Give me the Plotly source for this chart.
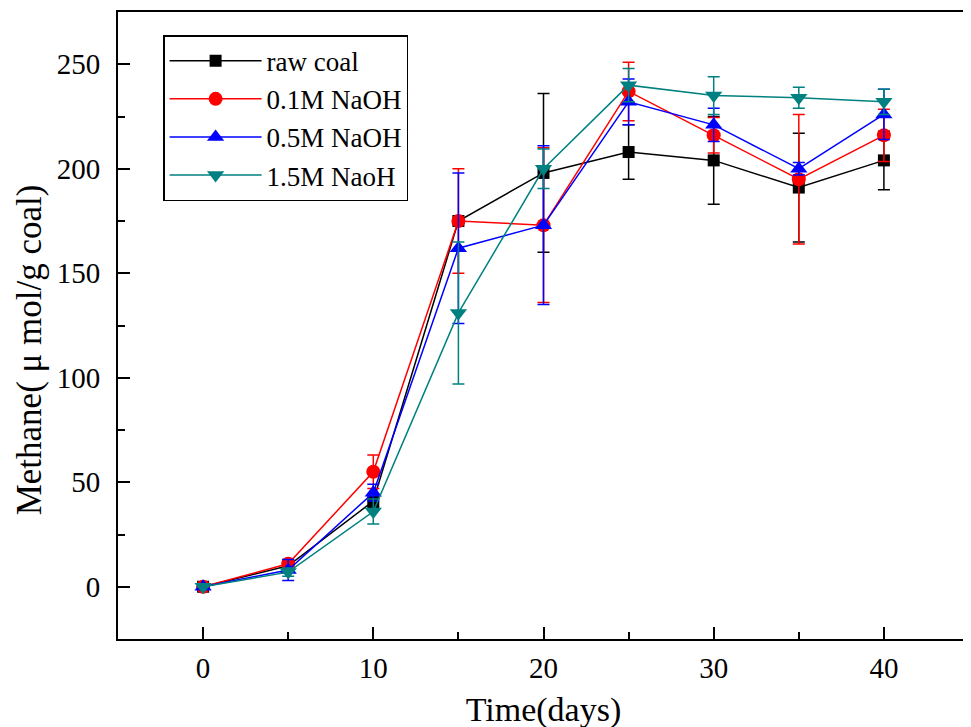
import plotly.graph_objects as go

time_days = [0, 5, 10, 15, 20, 25, 30, 35, 40]

raw_coal = [0, 10, 41, 175, 198, 208, 204, 191, 204]
raw_coal_err = [0, 2, 3, 0, 38, 13, 21, 26, 14]

naoh_01 = [0, 11, 55, 175, 173, 237, 216, 195, 216]
naoh_01_err = [0, 2, 8, 25, 37, 14, 8.5, 31, 12.5]

naoh_05 = [0, 8, 45, 162, 173, 232, 221, 200, 226]
naoh_05_err = [0, 5, 4, 36, 38, 11, 8, 3, 12]

naoh_15 = [0, 7, 36, 131, 200, 240, 235, 234, 232]
naoh_15_err = [0, 2, 6, 34, 9.5, 8, 9, 5, 6]

series_names = ["raw coal", "0.1M NaOH", "0.5M NaOH", "1.5M NaoH"]
x_ticks = [0, 10, 20, 30, 40]
y_ticks = [0, 50, 100, 150, 200, 250]
x_title = "Time(days)"
y_title = "Methane( μ mol/g coal)"

series = [
    (series_names[0], raw_coal, raw_coal_err, "#000000", "square", 12),
    (series_names[1], naoh_01, naoh_01_err, "#FF0000", "circle", 14),
    (series_names[2], naoh_05, naoh_05_err, "#0000FF", "triangle-up", 15),
    (series_names[3], naoh_15, naoh_15_err, "#008080", "triangle-down", 15),
]

FONT = "Liberation Serif"

fig = go.Figure()
for name, vals, errs, color, symbol, size in series:
    fig.add_trace(go.Scatter(
        x=time_days, y=vals, name=name, mode="lines+markers",
        line=dict(color=color, width=1.5),
        marker=dict(symbol=symbol, size=size, color=color, line=dict(width=0)),
        error_y=dict(type="data", array=errs, visible=True, color=color,
                     thickness=1.5, width=6),
    ))

axis_common = dict(
    showline=True, linewidth=2, linecolor="black", mirror=True,
    ticks="inside", ticklen=12, tickwidth=2, tickcolor="black",
    showgrid=False, zeroline=False, automargin=False,
    tickfont=dict(family=FONT, size=29, color="black"),
)

fig.update_xaxes(
    range=[-5, 45], tickvals=x_ticks, ticklabelstandoff=2,
    minor=dict(dtick=5, tick0=0, ticks="inside", ticklen=7, tickwidth=2, tickcolor="black", showgrid=False),
    title=dict(text=x_title, font=dict(family=FONT, size=34, color="black"), standoff=14),
    **axis_common,
)
fig.update_yaxes(
    range=[-25, 275], tickvals=y_ticks, ticklabelstandoff=10,
    minor=dict(dtick=25, tick0=0, ticks="inside", ticklen=7, tickwidth=2, tickcolor="black", showgrid=False),
    **axis_common,
)

fig.add_annotation(
    text=y_title, textangle=-90, showarrow=False,
    xref="paper", yref="paper", x=-0.103, y=0.461,
    xanchor="center", yanchor="middle",
    font=dict(family=FONT, size=35, color="black"),
)

fig.update_layout(
    width=971, height=727,
    margin=dict(l=110, r=10, t=4, b=96),
    paper_bgcolor="white", plot_bgcolor="white",
    showlegend=True,
    legend=dict(
        x=0.053, y=0.963, xanchor="left", yanchor="top",
        bordercolor="black", borderwidth=1.5, bgcolor="white",
        font=dict(family=FONT, size=27, color="black"),
        itemsizing="trace", itemwidth=92, tracegroupgap=0,
    ),
)

fig.write_html("out.html")
